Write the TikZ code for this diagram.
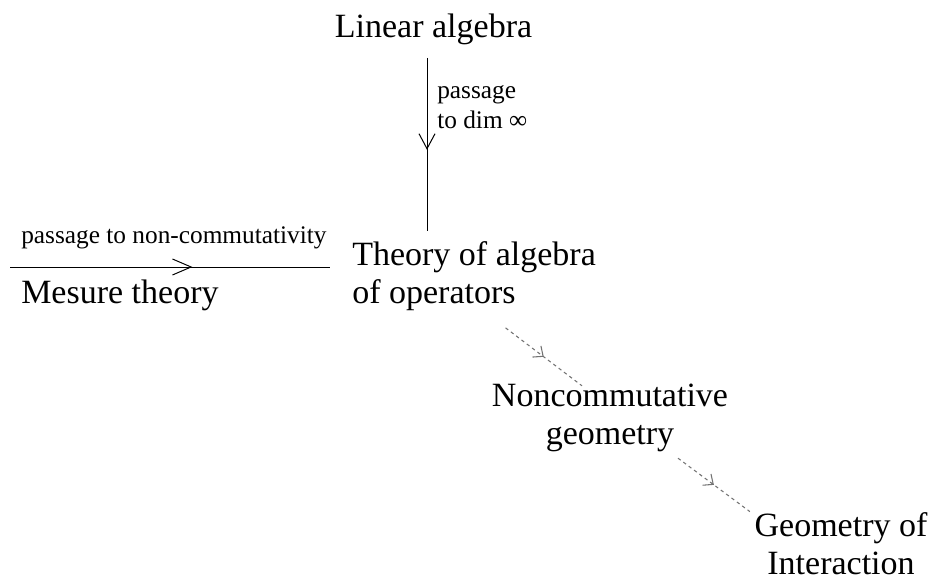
\documentclass[tikz,border=0pt]{standalone}
\usepackage{fontspec}
\setmainfont{Liberation Serif}
\usetikzlibrary{arrows.meta,decorations.markings}

\tikzset{midtip/.style 2 args={decoration={markings, mark=at position #1 with {\arrow{#2}}}, postaction={decorate}}}

\begin{document}
\begin{tikzpicture}[x=0.75pt, y=-0.75pt]
  \useasboundingbox (0,0) rectangle (937,585);
  % Styles
  \tikzstyle{topic} = [inner sep=0pt, font=\fontsize{25.5}{28.5}\selectfont]
  \tikzstyle{passage} = [inner sep=0pt, font=\fontsize{19}{22.5}\selectfont]
  \tikzstyle{link} = [line width=0.75pt, black]
  \tikzstyle{weaklink} = [line width=0.8pt, black!55, dash pattern=on 2.5pt off 2.5pt]

  % Topics
  \node[topic, anchor=base] (lin) at (433.5,38) {Linear algebra};
  \node[topic, anchor=west, align=left] (theo) at (352,276) {Theory of algebra\\of operators};
  \node[topic, anchor=base west] (mes) at (21,303) {Mesure theory};
  \node[topic, align=center] (nc) at (610,418) {Noncommutative\\geometry};
  \node[topic, align=center] (geo) at (841,544) {Geometry of\\Interaction};

  % Passage labels
  \node[passage, anchor=west, align=left] (dimlbl) at (437,107) {passage\\to dim ∞};
  \node[passage, anchor=base west] (nclbl) at (21,243) {passage to non-commutativity};

  % Connections
  \coordinate (hstart) at (10,267);
  \draw[link, midtip={0.53}{Straight Barb[length=11.25pt,width=12pt]}] ([shift={(-6.5,20)}]lin.base) -- ([shift={(-6.5,-10)}]lin.base |- theo.north);
  \draw[link, midtip={0.57}{Straight Barb[length=14pt,width=12pt]}] (hstart) -- ([shift={(-22,0)}]hstart -| theo.west);
  \draw[weaklink, midtip={0.5}{Straight Barb[length=6pt,width=10.5pt]}] ([shift={(31.5,17)}]theo.south) -- ([shift={(-28,2)}]nc.north);
  \draw[weaklink, midtip={0.5}{Straight Barb[length=6pt,width=10.5pt]}] ([shift={(68,6)}]nc.south) -- ([shift={(-4.5,-1)}]geo.north west);
\end{tikzpicture}
\end{document}
